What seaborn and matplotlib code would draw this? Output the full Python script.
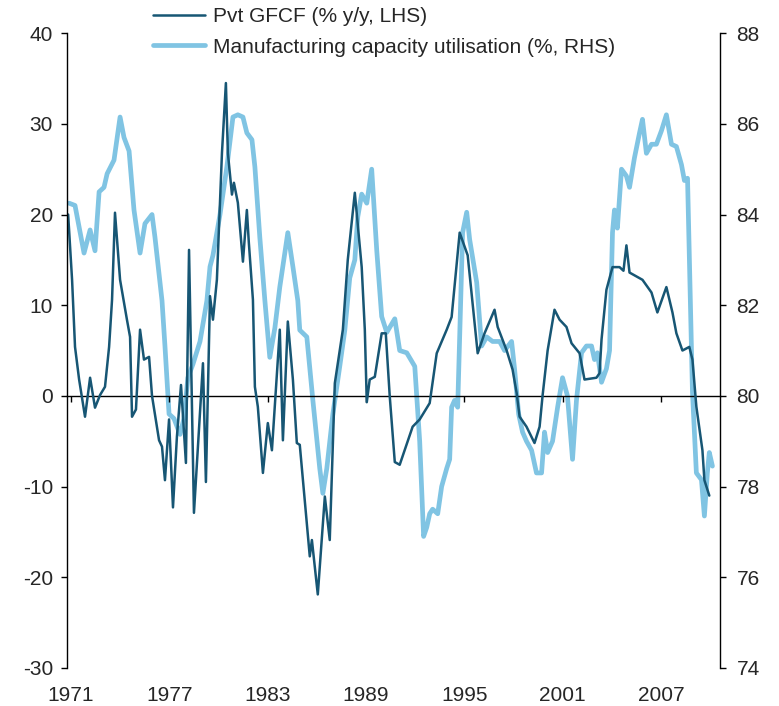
import numpy as np
import pandas as pd
import seaborn as sns
import matplotlib.pyplot as plt

# Private GFCF, % y/y (left axis)
gfcf_year = [1970.82, 1971.06, 1971.24, 1971.49, 1971.85, 1972.16, 1972.46, 1972.77,
             1973.07, 1973.32, 1973.50, 1973.68, 1973.99, 1974.41, 1974.60, 1974.72,
             1974.96, 1975.21, 1975.45, 1975.76, 1975.94, 1976.37, 1976.55, 1976.73,
             1976.98, 1977.22, 1977.46, 1977.71, 1978.01, 1978.20, 1978.50, 1979.05,
             1979.23, 1979.48, 1979.66, 1979.90, 1980.21, 1980.45, 1980.57, 1980.82,
             1980.94, 1981.18, 1981.49, 1981.73, 1981.85, 1982.10, 1982.22, 1982.40,
             1982.71, 1983.01, 1983.26, 1983.74, 1983.93, 1984.23, 1984.54, 1984.78,
             1984.96, 1985.57, 1985.70, 1986.06, 1986.49, 1986.79, 1987.10, 1987.59,
             1987.89, 1988.32, 1988.74, 1988.93, 1989.05, 1989.23, 1989.54, 1989.96,
             1990.21, 1990.45, 1990.76, 1991.06, 1991.85, 1992.28, 1992.89, 1993.32,
             1993.93, 1994.23, 1994.72, 1995.21, 1995.82, 1996.24, 1996.85, 1997.04,
             1997.59, 1997.95, 1998.20, 1998.38, 1998.80, 1999.29, 1999.60, 1999.78,
             2000.09, 2000.51, 2000.82, 2001.24, 2001.55, 2002.04, 2002.34, 2003.07,
             2003.26, 2003.38, 2003.68, 2004.05, 2004.48, 2004.72, 2004.90, 2005.09,
             2005.88, 2006.43, 2006.79, 2007.34, 2007.71, 2007.95, 2008.32, 2008.74,
             2008.93, 2009.17, 2009.54, 2009.66, 2009.96]
gfcf_val = [20.0, 12.8, 5.4, 1.8, -2.3, 2.0, -1.3, 0.1,
            1.0, 5.4, 10.6, 20.2, 12.8, 8.4, 6.5, -2.3,
            -1.5, 7.3, 4.0, 4.3, 0.0, -4.9, -5.6, -9.3,
            -2.6, -12.3, -4.5, 1.2, -7.4, 16.1, -12.9, 3.6,
            -9.5, 11.0, 8.4, 12.8, 26.8, 34.5, 26.8, 22.2,
            23.5, 21.3, 14.8, 20.5, 16.9, 10.6, 1.0, -1.2,
            -8.5, -3.0, -6.0, 7.3, -4.9, 8.2, 1.8, -5.2,
            -5.4, -17.7, -15.9, -21.9, -11.1, -15.9, 1.4, 7.3,
            15.0, 22.4, 14.2, 7.3, -0.7, 1.8, 2.1, 6.9,
            6.9, 0.0, -7.3, -7.6, -3.4, -2.6, -0.8, 4.7,
            7.3, 8.7, 18.0, 15.5, 4.7, 6.9, 9.5, 7.6,
            5.0, 2.9, 0.3, -2.3, -3.4, -5.2, -3.4, 0.0,
            5.0, 9.5, 8.4, 7.6, 5.8, 4.7, 1.8, 2.0,
            2.5, 6.2, 11.7, 14.2, 14.2, 13.8, 16.6, 13.6,
            12.8, 11.4, 9.2, 12.0, 9.2, 6.9, 5.0, 5.4,
            4.0, -1.2, -6.0, -9.3, -11.0]

# Manufacturing capacity utilisation, % (right axis)
cu_year = [1970.88, 1971.24, 1971.79, 1972.16, 1972.46, 1972.71, 1973.01, 1973.20,
           1973.62, 1973.99, 1974.23, 1974.54, 1974.84, 1975.21, 1975.51, 1975.94,
           1976.12, 1976.55, 1976.73, 1976.98, 1977.28, 1977.65, 1977.89, 1978.13,
           1978.44, 1978.87, 1979.29, 1979.48, 1979.66, 1980.09, 1980.51, 1980.88,
           1981.18, 1981.49, 1981.73, 1982.04, 1982.22, 1982.52, 1982.83, 1983.13,
           1983.44, 1983.74, 1984.23, 1984.54, 1984.84, 1984.96, 1985.39, 1985.76,
           1986.18, 1986.37, 1986.61, 1986.98, 1987.40, 1987.71, 1988.01, 1988.32,
           1988.50, 1988.74, 1989.05, 1989.35, 1989.66, 1989.96, 1990.27, 1990.76,
           1991.06, 1991.49, 1991.98, 1992.28, 1992.52, 1992.71, 1992.89, 1993.07,
           1993.38, 1993.62, 1993.93, 1994.11, 1994.23, 1994.41, 1994.60, 1994.90,
           1995.15, 1995.33, 1995.76, 1996.06, 1996.37, 1996.73, 1997.16, 1997.46,
           1997.89, 1998.07, 1998.32, 1998.56, 1998.80, 1999.11, 1999.41, 1999.72,
           1999.90, 2000.09, 2000.39, 2000.70, 2001.00, 2001.30, 2001.61, 2001.85,
           2002.16, 2002.46, 2002.77, 2002.95, 2003.13, 2003.38, 2003.68, 2003.87,
           2004.05, 2004.17, 2004.35, 2004.60, 2004.90, 2005.09, 2005.39, 2005.70,
           2005.88, 2006.12, 2006.43, 2006.73, 2007.04, 2007.34, 2007.65, 2007.95,
           2008.26, 2008.44, 2008.63, 2008.93, 2009.17, 2009.48, 2009.66, 2009.84,
           2009.96, 2010.15]
cu_val = [84.25, 84.2, 83.15, 83.66, 83.2, 84.5, 84.6, 84.9,
          85.2, 86.15, 85.7, 85.4, 84.1, 83.15, 83.8, 84.0,
          83.5, 82.1, 81.1, 79.6, 79.5, 79.15, 79.5, 80.4,
          80.7, 81.2, 82.1, 82.85, 83.1, 84.0, 85.05, 86.15,
          86.2, 86.15, 85.8, 85.65, 85.05, 83.5, 82.1, 80.85,
          81.5, 82.4, 83.6, 82.85, 82.1, 81.45, 81.3, 79.9,
          78.4, 77.85, 78.4, 79.6, 80.65, 81.45, 82.6, 83.0,
          83.95, 84.45, 84.25, 85.0, 83.2, 81.75, 81.4, 81.7,
          81.0, 80.95, 80.65, 79.0, 76.9, 77.1, 77.4, 77.5,
          77.4, 78.0, 78.4, 78.6, 79.75, 79.9, 79.75, 83.6,
          84.05, 83.45, 82.5, 81.1, 81.3, 81.2, 81.2, 81.0,
          81.2, 80.6, 79.6, 79.2, 79.0, 78.8, 78.3, 78.3,
          79.2, 78.75, 79.0, 79.75, 80.4, 80.0, 78.6, 79.9,
          80.95, 81.1, 81.1, 80.8, 80.95, 80.3, 80.6, 81.0,
          83.6, 84.1, 83.7, 85.0, 84.85, 84.6, 85.25, 85.8,
          86.1, 85.35, 85.55, 85.55, 85.85, 86.2, 85.55, 85.5,
          85.1, 84.75, 84.8, 80.1, 78.3, 78.15, 77.35, 78.3,
          78.75, 78.45]

year_ticks = [1971, 1977, 1983, 1989, 1995, 2001, 2007]
left_ticks = [-30, -20, -10, 0, 10, 20, 30, 40]
right_ticks = [74, 76, 78, 80, 82, 84, 86, 88]

gfcf_label = "Pvt GFCF (% y/y, LHS)"
cu_label = "Manufacturing capacity utilisation (%, RHS)"

sns.set_style("white")
plt.rcParams['font.family'] = ['Liberation Sans', 'DejaVu Sans']
plt.rcParams['axes.unicode_minus'] = False
fs = 15

dark = "#175674"
light = "#80c4e3"

fig = plt.figure(figsize=(7.79, 7.06), dpi=100)
ax = fig.add_axes([0.086, 0.054, 0.838, 0.899])
ax2 = ax.twinx()

sns.lineplot(x=cu_year, y=cu_val, ax=ax2, color=light, lw=3.4,
             estimator=None, sort=False, label=cu_label, legend=False)
sns.lineplot(x=gfcf_year, y=gfcf_val, ax=ax, color=dark, lw=1.8,
             estimator=None, sort=False, label=gfcf_label, legend=False)

# dark series drawn above the light one
ax.set_zorder(ax2.get_zorder() + 1)
ax.patch.set_visible(False)

ax.set_xlim(1970.75, 2010.6)
ax.set_ylim(-30, 40)
ax2.set_ylim(74, 88)
ax.set_yticks(left_ticks)
ax2.set_yticks(right_ticks)
ax.set_xticks(year_ticks)
ax.set_xticklabels([str(y) for y in year_ticks])
ax.set_xlabel("")
ax.set_ylabel("")
ax2.set_ylabel("")

for a in (ax, ax2):
    for s in a.spines.values():
        s.set_visible(False)
ax.spines['left'].set_visible(True)
ax2.spines['right'].set_visible(True)
for s in (ax.spines['left'], ax2.spines['right']):
    s.set_color("black")
    s.set_linewidth(1.0)

ax.tick_params(axis='y', direction='out', length=4, width=1, color='black',
               pad=6, labelsize=fs, left=True)
ax2.tick_params(axis='y', direction='out', length=4, width=1, color='black',
                pad=8, labelsize=fs, right=True)
ax.tick_params(axis='x', length=0, pad=13, labelsize=fs)

# x axis line running along zero of the left scale, ticks hanging below
zero_axis = ax.secondary_xaxis(0, transform=ax.transData)
zero_axis.set_xticks(year_ticks)
zero_axis.set_xticklabels([])
zero_axis.tick_params(axis='x', direction='out', length=4, width=1, color='black')
zero_axis.spines['bottom'].set_color('black')
zero_axis.spines['bottom'].set_linewidth(1.0)

handles = [ax.get_lines()[0], ax2.get_lines()[0]]
fig.legend(handles=handles, labels=[gfcf_label, cu_label], loc='upper left',
           bbox_to_anchor=(0.196, 0.99), frameon=False, fontsize=fs,
           handlelength=2.5, handletextpad=0.4, labelspacing=0.55,
           borderpad=0, borderaxespad=0)

fig.savefig("out.png", dpi=100)
